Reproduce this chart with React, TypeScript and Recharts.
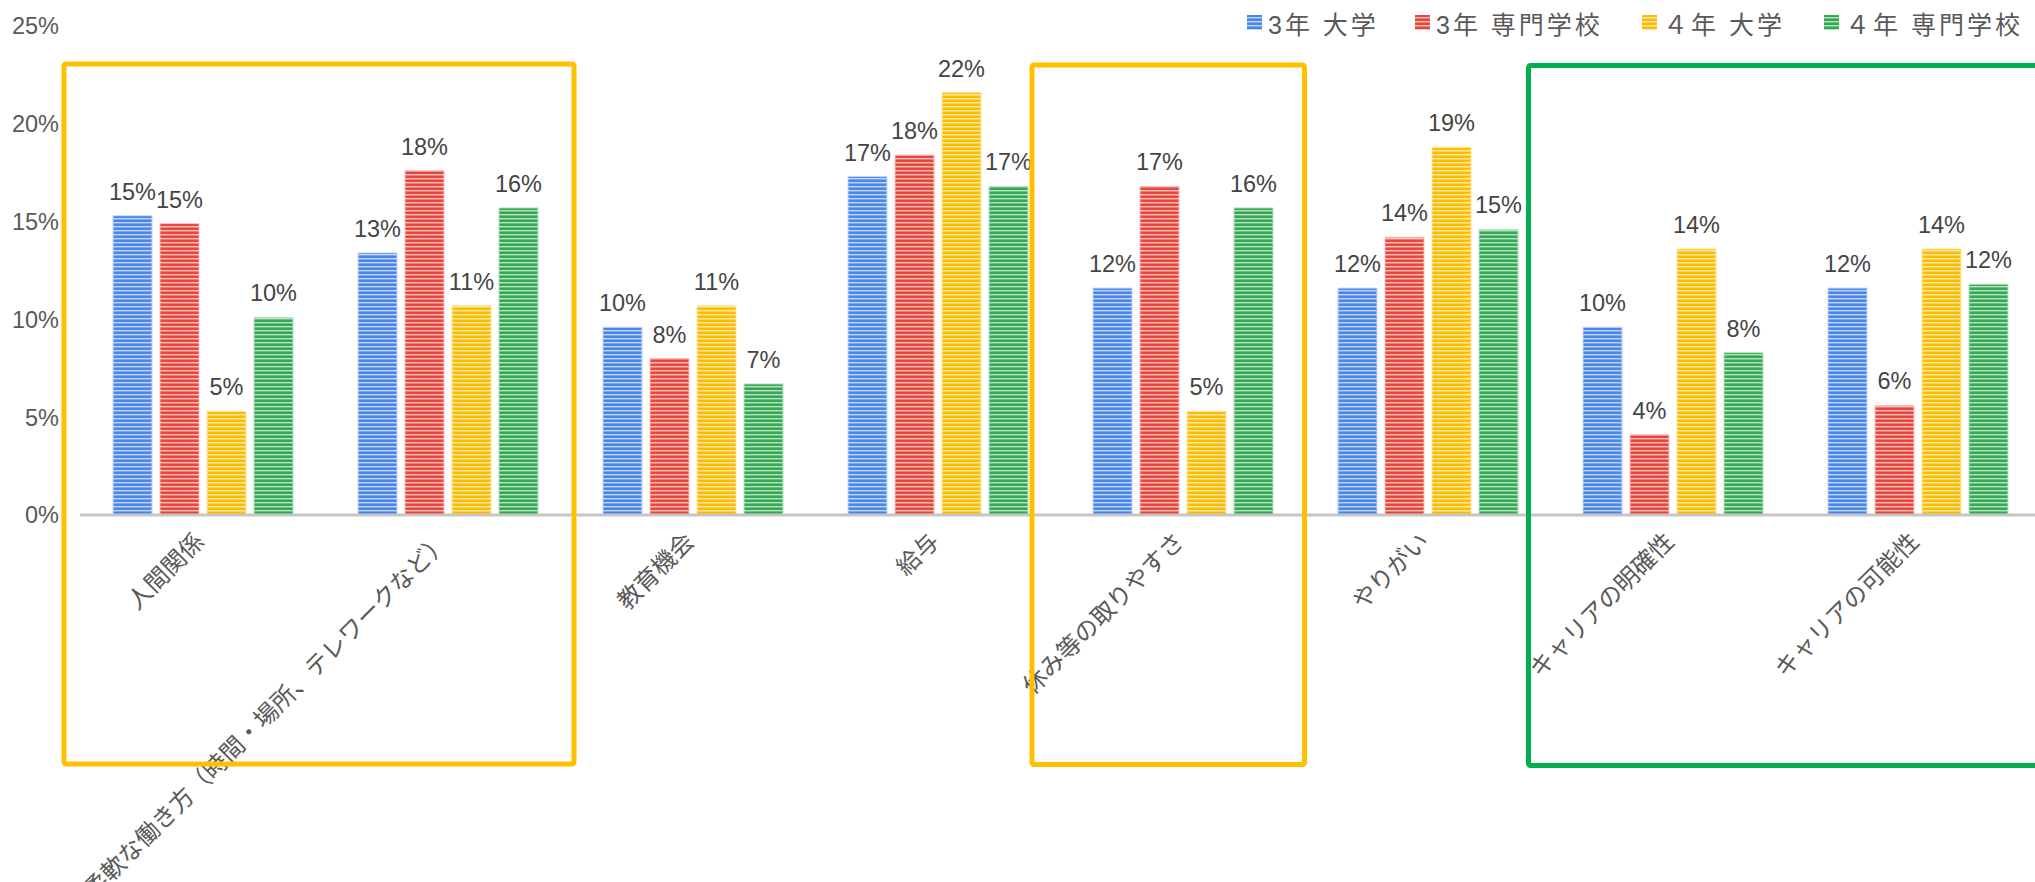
import React from "react";
import { Bar, BarChart, LabelList, XAxis, YAxis } from "recharts";

// 働く上で重視すること（学年・学校種別）
const categories = [
  "人間関係",
  "柔軟な働き方（時間・場所、テレワークなど）",
  "教育機会",
  "給与",
  "休み等の取りやすさ",
  "やりがい",
  "キャリアの明確性",
  "キャリアの可能性",
];

const univ3 = [15.3, 13.4, 9.6, 17.3, 11.6, 11.6, 9.6, 11.6];
const voc3 = [14.9, 17.6, 8.0, 18.4, 16.8, 14.2, 4.1, 5.6];
const univ4 = [5.3, 10.7, 10.7, 21.6, 5.3, 18.8, 13.6, 13.6];
const voc4 = [10.1, 15.7, 6.7, 16.8, 15.7, 14.6, 8.3, 11.8];

const seriesNames = ["3年 大学", "3年 専門学校", "４年 大学", "４年 専門学校"];
const yTicks = [0, 5, 10, 15, 20, 25];

const seriesKeys = ["u3", "v3", "u4", "v4"];
const palette = [
  { base: "#4a86e8", mid: "#7aa6f0", light: "#c2d6f8" },
  { base: "#e8453c", mid: "#ef7a72", light: "#f7c0bc" },
  { base: "#fbbc04", mid: "#fcd050", light: "#fde79f" },
  { base: "#34a853", mid: "#6cc083", light: "#b9e2c4" },
];
// legend item left edges
const legendX = [1247, 1415, 1642, 1824];

const data = categories.map((name, i) => ({
  name,
  u3: univ3[i],
  v3: voc3[i],
  u4: univ4[i],
  v4: voc4[i],
}));

const latin = "'Liberation Sans', Arial, 'Noto Sans CJK JP', sans-serif";
const cjk = "'Noto Sans CJK JP', 'Liberation Sans', sans-serif";

function Patterns() {
  return (
    <svg width={0} height={0} style={{ position: "absolute" }}>
      <defs>
        {palette.map((c, i) => (
          <pattern
            key={i}
            id={`stripe-${i}`}
            patternUnits="userSpaceOnUse"
            width={10}
            height={4}
          >
            <rect x={0} y={0} width={10} height={2} fill={c.base} />
            <rect x={0} y={2} width={10} height={1} fill={c.light} />
            <rect x={0} y={3} width={10} height={1} fill={c.mid} />
          </pattern>
        ))}
      </defs>
    </svg>
  );
}

function CategoryTick({ x, y, payload }: any) {
  return (
    <g transform={`translate(${x + 3},${y + 20}) rotate(-45)`}>
      <text textAnchor="end" fill="#595959" fontSize={24} fontFamily={cjk}>
        {payload.value}
      </text>
    </g>
  );
}

function Legend() {
  return (
    <>
      {seriesNames.map((n, i) => (
        <div
          key={n}
          style={{
            position: "absolute",
            top: 0,
            left: legendX[i],
            height: 45,
            display: "flex",
            alignItems: "center",
            whiteSpace: "nowrap",
            fontFamily: latin,
            fontSize: 25,
            letterSpacing: 3,
            color: "#595959",
          }}
        >
          <svg width={15} height={15} style={{ marginRight: 6 }}>
            <rect width={15} height={15} fill={`url(#stripe-${i})`} />
          </svg>
          <span>{n}</span>
        </div>
      ))}
    </>
  );
}

export default function App() {
  return (
    <div
      style={{
        position: "relative",
        width: 2035,
        height: 882,
        overflow: "hidden",
        background: "#fff",
      }}
    >
      <style>{"body{margin:0}"}</style>
      <Patterns />
      <BarChart
        width={2040}
        height={882}
        data={data}
        margin={{ top: 26, right: 0, bottom: 0, left: 0 }}
        barSize={39}
        barGap={8}
      >
        <XAxis
          dataKey="name"
          interval={0}
          height={367}
          tickLine={false}
          axisLine={{ stroke: "#c6c6c6", strokeWidth: 3 }}
          tick={<CategoryTick />}
        />
        <YAxis
          width={80}
          domain={[0, 25]}
          ticks={yTicks}
          axisLine={false}
          tickLine={false}
          tickMargin={15}
          tickFormatter={(v: number) => `${v}%`}
          tick={{ fill: "#595959", fontSize: 23.5, fontFamily: latin }}
        />
        {seriesKeys.map((k, i) => (
          <Bar
            key={k}
            dataKey={k}
            name={seriesNames[i]}
            fill={`url(#stripe-${i})`}
            stroke={palette[i].light}
            strokeWidth={1}
            isAnimationActive={false}
          >
            <LabelList
              dataKey={k}
              position="top"
              offset={16}
              formatter={(v: any) => `${Math.round(Number(v))}%`}
              fill="#444444"
              fontSize={23.5}
              fontFamily={latin}
            />
          </Bar>
        ))}
      </BarChart>
      <Legend />
      {/* 強調枠 */}
      <svg
        width={2035}
        height={882}
        style={{ position: "absolute", left: 0, top: 0, pointerEvents: "none" }}
      >
        <rect x={64} y={64} width={510} height={700} fill="none" stroke="#ffc000" strokeWidth={5} rx={2} />
        <rect x={1032} y={65} width={272.5} height={699.5} fill="none" stroke="#ffc000" strokeWidth={5} rx={2} />
        <rect x={1528.5} y={65.5} width={520} height={700} fill="none" stroke="#00b050" strokeWidth={5} rx={2} />
      </svg>
    </div>
  );
}
